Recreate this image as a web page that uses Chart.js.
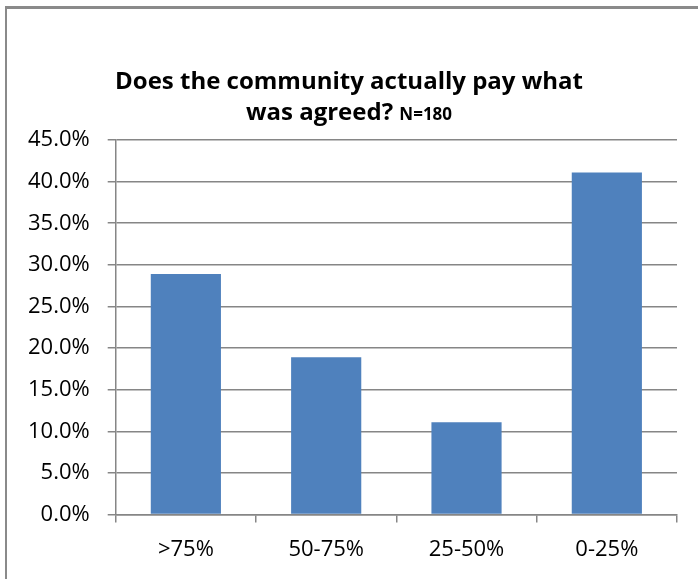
<!DOCTYPE html>
<html>
<head>
<meta charset="utf-8">
<script src="https://cdn.jsdelivr.net/npm/chart.js@4"></script>
<style>
  body { margin: 0; background: #fff; }
  #frame {
    position: absolute; left: 5px; top: 6px; width: 700px; height: 580px;
    border-left: 2px solid #8a8a8a; border-top: 3px solid #8a8a8a;
  }
  #wrap { position: absolute; left: 0; top: 0; width: 698px; height: 579px; }
</style>
</head>
<body>
<div id="frame"></div>
<div id="wrap"><canvas id="myChart"></canvas></div>
<script>
// Survey answers, share of respondents (N=180)
const categories = [">75%", "50-75%", "25-50%", "0-25%"];
const shares = [28.9, 18.9, 11.1, 41.1];
const yTicks = { min: 0, max: 45, step: 5 };

const titleLine1 = "Does the community actually pay what";
const titleLine2 = "was agreed? ";
const titleNote = "N=180";

const FONT = "'Open Sans', 'Liberation Sans', sans-serif";

// Two-line title; the sample size sits on line two in a smaller face
const titlePlugin = {
  id: 'twoLineTitle',
  afterDraw(chart) {
    const c = chart.ctx;
    const cx = chart.width / 2;
    c.save();
    c.fillStyle = '#000';
    c.textBaseline = 'middle';
    c.textAlign = 'left';

    c.font = "bold 24px " + FONT;
    const w1 = c.measureText(titleLine1).width;
    c.fillText(titleLine1, cx - w1 / 2, 82);

    const wMain = c.measureText(titleLine2).width;
    c.font = "bold 17px " + FONT;
    const wNote = c.measureText(titleNote).width;
    const x0 = cx - (wMain + wNote) / 2;
    c.font = "bold 24px " + FONT;
    c.fillText(titleLine2, x0, 113);
    c.font = "bold 17px " + FONT;
    c.fillText(titleNote, x0 + wMain, 115);
    c.restore();
  }
};

const ctx = document.getElementById('myChart').getContext('2d');

const chart = new Chart(ctx, {
  type: 'bar',
  data: {
    labels: categories,
    datasets: [{
      data: shares,
      backgroundColor: '#4F81BD',
      borderWidth: 0,
      categoryPercentage: 1,
      barPercentage: 0.5
    }]
  },
  options: {
    responsive: true,
    maintainAspectRatio: false,
    animation: false,
    layout: { padding: { top: 140, right: 21, bottom: 2, left: 10 } },
    plugins: {
      legend: { display: false },
      title: { display: false },
      tooltip: { enabled: false }
    },
    scales: {
      x: {
        grid: {
          offset: true,
          drawOnChartArea: false,
          drawTicks: true,
          tickLength: 8,
          color: '#868686',
          lineWidth: 1.5
        },
        border: { color: '#868686', width: 1.5 },
        ticks: {
          color: '#000',
          padding: 14,
          font: { family: FONT, size: 22 }
        }
      },
      y: {
        min: yTicks.min,
        max: yTicks.max,
        grid: {
          color: '#868686',
          lineWidth: 1.5,
          tickLength: 8
        },
        border: { color: '#868686', width: 1.5 },
        ticks: {
          stepSize: yTicks.step,
          color: '#000',
          padding: 18,
          font: { family: FONT, size: 22 },
          callback: v => v.toFixed(1) + '%'
        }
      }
    }
  },
  plugins: [titlePlugin]
});
</script>
</body>
</html>
